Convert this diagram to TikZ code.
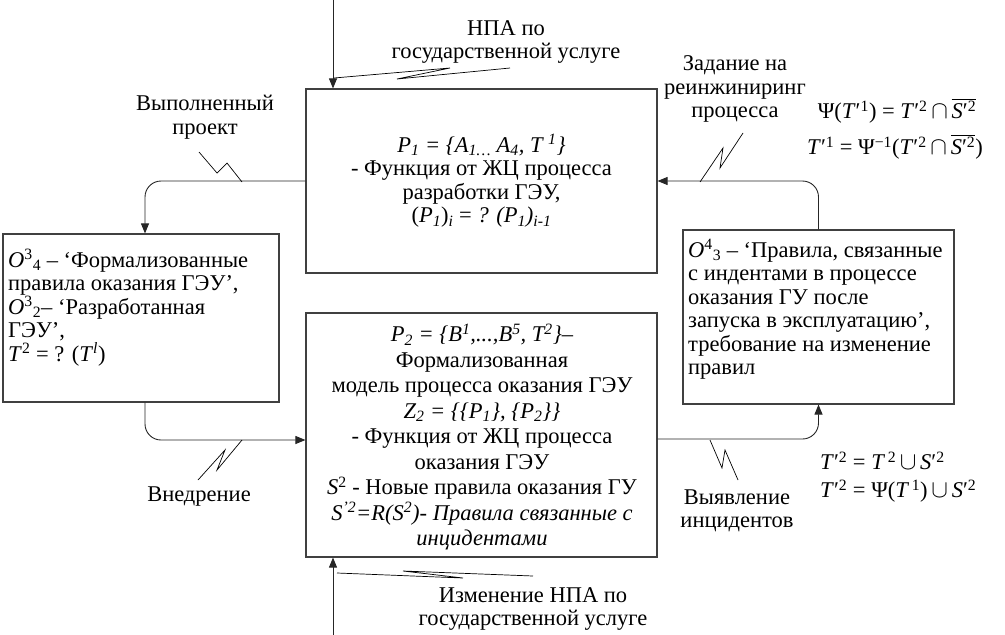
\documentclass[tikz,border=0pt]{standalone}
\usepackage{fontspec}
\setmainfont{Liberation Serif}
\usepackage{tikz}
\usetikzlibrary{arrows.meta, positioning, calc}

\newcommand{\barred}[1]{$\overline{\mbox{#1}}$}
\newcommand{\bigcapsym}{\,{\fontsize{30}{30}\selectfont$\cap$}\,}
\newcommand{\bigcupsym}{\,{\fontsize{30}{30}\selectfont$\cup$}\,}

\begin{document}
\begin{tikzpicture}[x=1pt, y=-1pt,
    box/.style={draw=black!75, line width=1.1pt, inner sep=0pt},
    txt/.style={font=\fontsize{22.5}{23.5}\selectfont, inner sep=0pt},
    flow/.style={draw=black!85, line width=0.9pt, rounded corners=16pt,
        -{Triangle[length=10pt, width=8pt]}},
    leader/.style={draw=black, line width=0.7pt}]
    \useasboundingbox (0,0) rectangle (1005,635);

    % Process boxes
    \node[box, minimum width=351pt, minimum height=184pt] (proj) at (481.5,181) {};
    \node[box, minimum width=276pt, minimum height=168pt] (done) at (141,318) {};
    \node[box, minimum width=351pt, minimum height=244pt] (model) at (481.5,435) {};
    \node[box, minimum width=271pt, minimum height=174pt] (incid) at (818.5,317) {};

    % Texts in the boxes
    \node[txt, align=center] (projtxt) at (481.5,181) {%
        \textit{P\textsubscript{1} = \{A\textsubscript{1…} A\textsubscript{4}, T \textsuperscript{1}\}}\\
        - Функция от ЖЦ процесса\\
        разработки ГЭУ,\\
        (\textit{P\textsubscript{1}})\textsubscript{\textit{i}} = \textit{? (P\textsubscript{1})\textsubscript{i-1}}};
    \node[txt, align=left, anchor=north west] (donetxt) at (8,249) {%
        \textit{O}\textsuperscript{3}\textsubscript{4} – ‘Формализованные\\
        правила оказания ГЭУ’,\\
        \textit{O}\textsuperscript{3}\textsubscript{2}– ‘Разработанная\\
        ГЭУ’,\\
        \textit{T}\textsuperscript{2} = ? (\textit{T}\textsuperscript{\textit{l}})};
    \node[txt, align=center, font=\fontsize{22.5}{25.5}\selectfont] (modeltxt) at (482,437) {%
        \textit{P\textsubscript{2} = \{B\textsuperscript{1},...,B\textsuperscript{5}, T\textsuperscript{2}\}–}\\
        Формализованная\\
        модель процесса оказания ГЭУ\\
        \textit{Z\textsubscript{2} = \{\{P\textsubscript{1}\}, \{P\textsubscript{2}\}\}}\\
        - Функция от ЖЦ процесса\\
        оказания ГЭУ\\
        \textit{S}\textsuperscript{2} - Новые правила оказания ГУ\\
        \textit{S\textsuperscript{'2}=R(S\textsuperscript{2})- Правила связанные с}\\
        \textit{инцидентами}};
    \node[txt, align=left, anchor=north west] (incidtxt) at (688,239) {%
        \textit{O}\textsuperscript{4}\textsubscript{3} – ‘Правила, связанные\\
        с индентами в процессе\\
        оказания ГУ после\\
        запуска в эксплуатацию’,\\
        требование на изменение\\
        правил};

    % Cycle between the boxes
    \draw[flow] (proj.west) -| ([xshift=4pt]done.north);
    \draw[flow] ([xshift=4pt]done.south) |- ([yshift=-5pt]model.west);
    \draw[flow] ([yshift=-4pt]model.east) -| (incid.south);
    \draw[flow] (incid.north) |- (proj.east);

    % Regulation inputs
    \coordinate (lawin) at (333,0);
    \coordinate (lawchg) at (333,635);
    \draw[flow] (lawin) -- (lawin |- proj.north);
    \draw[flow] (lawchg) -- (lawchg |- model.south);

    % Labels of the arrows
    \node[txt, align=center] (lawlbl) at (506,42) {НПА по\\государственной услуге};
    \node[txt, align=center] (donelbl) at (205,117) {Выполненный\\проект};
    \node[txt, align=center] (reenglbl) at (735,89) {Задание на\\реинжиниринг\\процесса};
    \node[txt] (implbl) at (199,497) {Внедрение};
    \node[txt, align=center] (detlbl) at (737,511) {Выявление\\инцидентов};
    \node[txt, align=center] (chglbl) at (533,609) {Изменение НПА по\\государственной услуге};

    % Leaders from labels to arrows
    \draw[leader] (334,78) -- (450,68) -- (397,79) -- (510,68);
    \draw[leader] (199,152) -- (217,173) -- (227,163) -- (242,182);
    \draw[leader] (700,182) -- (723,148) -- (720,168) -- (743,133);
    \draw[leader] (242,440) -- (217,470) -- (225,450) -- (198,480);
    \draw[leader] (710,440) -- (722,468) -- (725,450) -- (738,480);
    \draw[leader] (337,573) -- (463,578) -- (403,571) -- (533,576);

    % Set relations
    \node[txt] (psione) at (897,111) {Ψ(\textit{T}′\textsuperscript{1}) = \textit{T}′\textsuperscript{2}\bigcapsym\barred{\textit{S}′\textsuperscript{2}}};
    \node[txt] (psitwo) at (895,147) {\textit{T}′\textsuperscript{1} = Ψ\textsuperscript{−1}(\textit{T}′\textsuperscript{2}\bigcapsym\barred{\textit{S}′\textsuperscript{2}})};
    \node[txt, anchor=west] (unione) at (820,461) {\textit{T}′\textsuperscript{2} = \textit{T}\textsuperscript{\,2}\bigcupsym\textit{S}′\textsuperscript{2}};
    \node[txt, anchor=west] (uniontwo) at (820,491) {\textit{T}′\textsuperscript{2} = Ψ(\textit{T}\textsuperscript{\,1})\bigcupsym\textit{S}′\textsuperscript{2}};
\end{tikzpicture}
\end{document}
